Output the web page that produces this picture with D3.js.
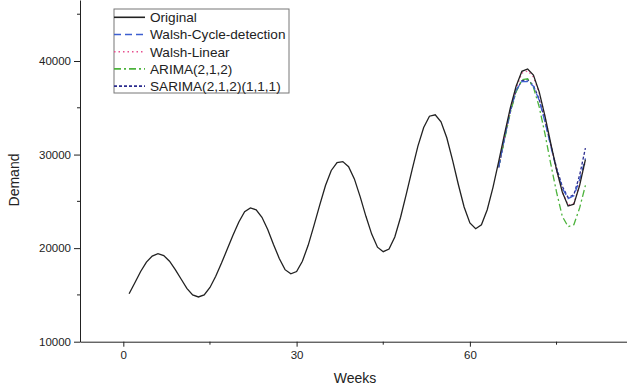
<!DOCTYPE html>
<html lang="en">
<head>
    <meta charset="UTF-8">
    <title>Demand forecast</title>
    <script src="https://cdn.jsdelivr.net/npm/d3@7/dist/d3.min.js"></script>
    <style>
        body { margin: 0; background: #fff; }
        text { font-family: "Liberation Sans", Arial, sans-serif; fill: #222; }
    </style>
</head>
<body>
    <svg width="627" height="385" id="mainsvg" style="display: block;"></svg>
    <script>
        // weeks 1..80 of observed demand
        const weeks = d3.range(1, 81);
        const original = [
            15130, 16300, 17500, 18500, 19150, 19400, 19200, 18600, 17700, 16700,
            15700, 15000, 14780, 15000, 15800, 17000, 18400, 19900, 21400, 22800,
            23900, 24290, 24100, 23300, 22000, 20400, 18900, 17700, 17250, 17500,
            18600, 20300, 22400, 24600, 26700, 28300, 29150, 29250, 28700, 27400,
            25500, 23400, 21500, 20100, 19620, 19900, 21200, 23300, 25800, 28400,
            30900, 32900, 34100, 34250, 33500, 31800, 29400, 26800, 24400, 22700,
            22080, 22500, 24100, 26500, 29300, 32200, 35000, 37300, 38900, 39150,
            38500, 36700, 34100, 31200, 28400, 26000, 24500, 24700, 26700, 29450
        ];

        // forecast horizon
        const forecastWeeks = d3.range(65, 81);
        const walshCycle = [28700, 31800, 34700, 36900, 37800, 37800, 37300, 35800,
                            33500, 30900, 28400, 26400, 25300, 25600, 27300, 29600];
        const walshLinear = [28900, 31900, 34800, 37100, 38700, 38950, 38300, 36600,
                             34000, 31200, 28400, 26000, 24600, 24800, 26800, 29300];
        const arima = [28800, 31600, 34500, 36700, 38000, 38100, 37200, 35100,
                       32200, 29000, 26000, 23400, 22300, 22500, 24300, 26700];
        const sarima = [28600, 31700, 34600, 36800, 37900, 38000, 37400, 35900,
                        33600, 31000, 28600, 26600, 25400, 25700, 27800, 30700];

        const xMajor = [0, 30, 60];
        const xMinor = [15, 45, 75];
        const yMajor = [10000, 20000, 30000, 40000];
        const yMinor = [15000, 25000, 35000, 45000];

        const series = [
            {name: "Original", x: weeks, y: original, color: "#222", dash: null},
            {name: "Walsh-Cycle-detection", x: forecastWeeks, y: walshCycle, color: "#3d5fd0", dash: "7,4"},
            {name: "Walsh-Linear", x: forecastWeeks, y: walshLinear, color: "#e8508f", dash: "1.5,3"},
            {name: "ARIMA(2,1,2)", x: forecastWeeks, y: arima, color: "#4cb33c", dash: "7,3,2,3"},
            {name: "SARIMA(2,1,2)(1,1,1)", x: forecastWeeks, y: sarima, color: "#2b2c8f", dash: "3,2"}
        ];

        const svg = d3.select("#mainsvg");

        const x = d3.scaleLinear().domain([-7.5, 87.2]).range([80, 627]);
        const y = d3.scaleLinear().domain([10000, 46520]).range([341.7, 0]);

        const line = d3.line().x(d => x(d[0])).y(d => y(d[1]));

        // series lines
        series.slice().reverse().forEach(s => {
            svg.append("path")
                .datum(s.x.map((w, i) => [w, s.y[i]]))
                .attr("fill", "none")
                .attr("stroke", s.color)
                .attr("stroke-width", 1.3)
                .attr("stroke-dasharray", s.dash)
                .attr("d", line);
        });

        // x axis
        const xAxis = svg.append("g").attr("transform", `translate(0, ${y(10000)})`);
        xAxis.call(d3.axisBottom(x).tickValues(xMajor).tickFormat(d3.format("d"))
                .tickSize(5).tickPadding(4).tickSizeOuter(0))
            .call(g => g.selectAll("text").attr("font-size", 11.5))
            .call(g => g.selectAll("path, line").attr("stroke", "#222"));
        xAxis.selectAll(".minor").data(xMinor).join("line")
            .attr("x1", d => x(d)).attr("x2", d => x(d))
            .attr("y1", 0).attr("y2", 3)
            .attr("stroke", "#222");

        // y axis
        const yAxis = svg.append("g").attr("transform", `translate(${x(-7.5)}, 0)`);
        yAxis.call(d3.axisLeft(y).tickValues(yMajor).tickFormat(d3.format("d"))
                .tickSize(6).tickPadding(3).tickSizeOuter(0))
            .call(g => g.selectAll("text").attr("font-size", 11.5))
            .call(g => g.selectAll("path, line").attr("stroke", "#222"));
        yAxis.selectAll(".minor").data(yMinor).join("line")
            .attr("x1", -3).attr("x2", 0)
            .attr("y1", d => y(d)).attr("y2", d => y(d))
            .attr("stroke", "#222");

        svg.append("text")
            .attr("x", 355).attr("y", 383)
            .attr("text-anchor", "middle")
            .attr("font-size", 14)
            .text("Weeks");

        svg.append("text")
            .attr("transform", "translate(19, 180) rotate(-90)")
            .attr("text-anchor", "middle")
            .attr("font-size", 14)
            .text("Demand");

        // legend
        const legend = svg.append("g");
        legend.append("rect")
            .attr("x", 114).attr("y", 9)
            .attr("width", 175).attr("height", 84)
            .attr("fill", "#fff")
            .attr("stroke", "#777")
            .attr("stroke-width", 1);

        const rows = legend.selectAll("g.row").data(series).join("g")
            .attr("transform", (d, i) => `translate(114, ${17.3 + i * 17.2})`);
        rows.append("line")
            .attr("x1", 0).attr("x2", 31)
            .attr("stroke", d => d.color)
            .attr("stroke-width", 1.6)
            .attr("stroke-dasharray", d => d.dash);
        rows.append("text")
            .attr("x", 36).attr("y", 4.8)
            .attr("font-size", 13.6)
            .text(d => d.name);
    </script>
</body>
</html>
